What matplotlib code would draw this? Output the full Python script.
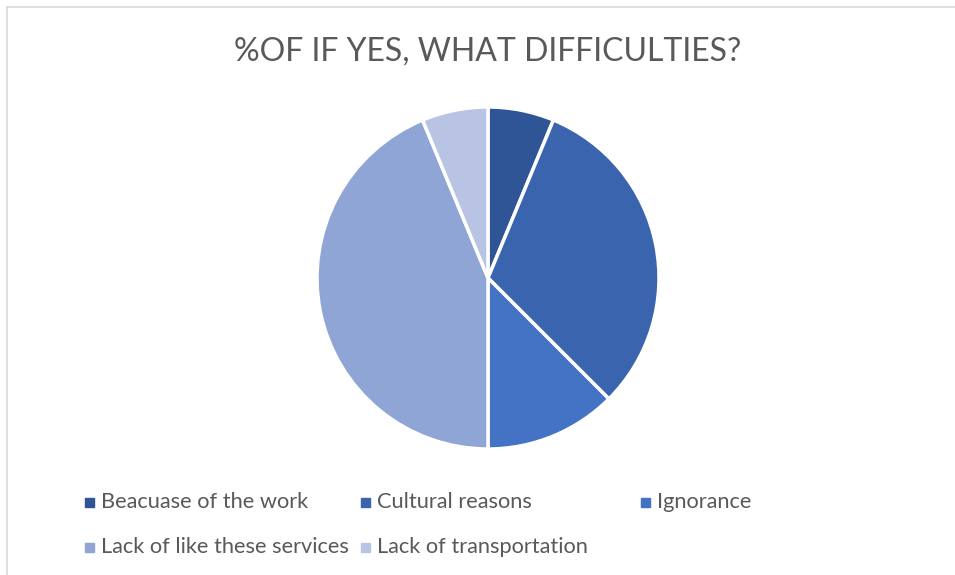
import matplotlib
matplotlib.use('Agg')
import matplotlib.pyplot as plt
from matplotlib.lines import Line2D
from matplotlib.patches import Rectangle

title = '%OF IF YES, WHAT DIFFICULTIES?'
labels = ['Beacuase of the work', 'Cultural reasons', 'Ignorance',
          'Lack of like these services', 'Lack of transportation']
values = [6.25, 31.25, 12.5, 43.75, 6.25]
colors = ['#2F5597', '#3A64AE', '#4472C4', '#8FA5D5', '#B9C3E3']

W, H = 955, 575
fig = plt.figure(figsize=(W / 100, H / 100), dpi=100)
fig.patch.set_facecolor('white')
plt.rcParams['font.family'] = ['Lato', 'DejaVu Sans']

# thin frame on top and left
fig.add_artist(Line2D([6.5 / W, 6.5 / W], [0, 1 - 6.5 / H], transform=fig.transFigure,
                      color='#D9D9D9', lw=1.2))
fig.add_artist(Line2D([6.5 / W, 1], [1 - 6.5 / H, 1 - 6.5 / H], transform=fig.transFigure,
                      color='#D9D9D9', lw=1.2))

fig.text(488 / W, 1 - 52 / H, title, ha='center', va='center',
         fontsize=23, color='#595959')

# pie
cx, cy, r = 488, 278, 171
ax = fig.add_axes([(cx - r) / W, 1 - (cy + r) / H, 2 * r / W, 2 * r / H])
ax.pie(values, colors=colors, startangle=90, counterclock=False, radius=1,
       wedgeprops=dict(edgecolor='white', linewidth=2.5))
ax.set_xlim(-1, 1)
ax.set_ylim(-1, 1)
ax.set_aspect('equal')
ax.axis('off')

# legend, three columns, row-major
col_x = [85, 361, 641]
row_y = [502, 547]
for i, (lab, c) in enumerate(zip(labels, colors)):
    x = col_x[i % 3]
    y = row_y[i // 3]
    fig.add_artist(Rectangle((x / W, 1 - (y + 4.5) / H), 9 / W, 9 / H,
                             transform=fig.transFigure, color=c))
    fig.text((x + 16) / W, 1 - y / H, lab, ha='left', va='center',
             fontsize=15.7, color='#595959')

fig.savefig('out.png', dpi=100, facecolor='white')
